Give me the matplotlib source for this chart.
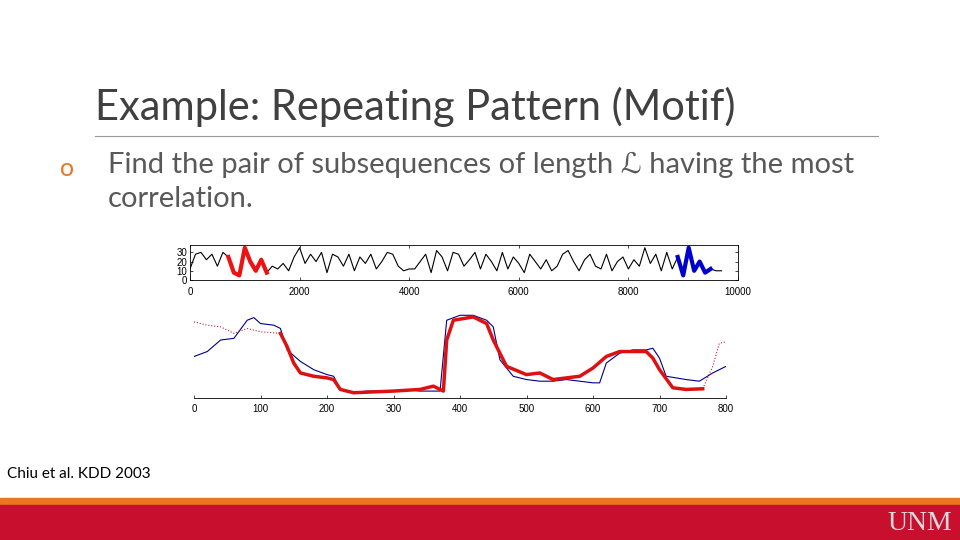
import matplotlib
matplotlib.use("Agg")
import matplotlib.pyplot as plt
import numpy as np

# ---- data ----
top_x = list(range(0, 9800, 100))
top_y = [12,28,30,22,28,15,30,
         25,8,5,35,20,10,22,8,
         15,12,18,10,25,
         35,18,28,20,30,8,28,25,15,28,
         10,25,18,28,12,20,30,28,15,10,
         12,12,20,28,8,32,25,10,30,28,
         15,22,30,12,28,20,10,30,12,25,
         18,8,28,20,12,22,10,15,28,32,
         20,10,22,28,15,12,28,10,20,25,
         12,22,15,35,18,28,10,30,12,25,
         5,35,10,20,8,12,10,10]
red_range = (700, 1400)
blue_range = (8900, 9500)

blue_x = [0,20,40,60,80,90,100,120,130,140,160,180,200,210,220,240,260,280,300,320,340,360,370,
          380,400,420,440,450,460,480,500,520,540,560,580,600,610,620,640,660,680,690,700,710,740,760,780,800]
blue_y = [120,135,170,175,230,238,220,215,205,140,105,80,65,60,20,10,15,15,15,20,15,15,15,
          230,245,245,230,210,110,60,50,45,45,50,45,40,40,100,130,140,140,145,115,60,50,45,70,90]
redpre_x = [0,20,40,60,80,100,130]
redpre_y = [225,215,210,190,205,195,190]
red_x = [130,140,150,160,180,200,210,220,240,300,340,360,375,380,390,420,440,450,460,470,500,520,540,560,580,600,620,640,680,690,700,720,740,765]
red_y = [190,150,100,70,60,55,50,20,10,15,20,30,15,170,230,240,220,170,130,90,65,70,50,55,60,85,120,135,135,115,80,25,20,22]
redpost_x = [765,780,790,800]
redpost_y = [22,90,160,165]

W, H = 960, 540
fig = plt.figure(figsize=(9.6, 5.4), dpi=100)
fig.patch.set_facecolor("white")

def ax_rect(x0, y0, x1, y1):
    return [x0 / W, 1 - y1 / H, (x1 - x0) / W, (y1 - y0) / H]

tf = ["Liberation Sans", "DejaVu Sans"]

# top chart
ax1 = fig.add_axes(ax_rect(190, 245, 738, 280))
ax1.plot(top_x, top_y, color="black", lw=0.8)
tx = np.array(top_x); ty = np.array(top_y)
m = (tx >= red_range[0]) & (tx <= red_range[1])
ax1.plot(tx[m], ty[m], color="#ee1111", lw=3)
m = (tx >= blue_range[0]) & (tx <= blue_range[1])
ax1.plot(tx[m], ty[m], color="#0000cc", lw=3)
ax1.set_xlim(0, 10000); ax1.set_ylim(0, 38)
ax1.set_xticks([0, 2000, 4000, 6000, 8000, 10000])
ax1.set_yticks([0, 10, 20, 30])
ax1.tick_params(labelsize=7, length=2, width=0.5, right=True, top=True, direction="in")
ax1.tick_params(axis="x", pad=5)
ax1.tick_params(axis="y", pad=2)
for lab in ax1.get_xticklabels() + ax1.get_yticklabels():
    lab.set_family(tf)
for s in ax1.spines.values():
    s.set_linewidth(0.6)

# bottom chart
ax2 = fig.add_axes(ax_rect(194, 312, 726, 398))
ax2.plot(blue_x, blue_y, color="#000088", lw=0.8)
ax2.plot(redpre_x, redpre_y, color="#cc2222", lw=0.8, ls=":")
ax2.plot(redpost_x, redpost_y, color="#cc2222", lw=0.8, ls=":")
ax2.plot(red_x, red_y, color="#dd1111", lw=2.5)
ax2.set_xlim(0, 800); ax2.set_ylim(-6, 255)
ax2.set_xticks(range(0, 801, 100))
ax2.set_yticks([])
for s in ["top", "right", "left"]:
    ax2.spines[s].set_visible(False)
ax2.spines["bottom"].set_linewidth(0.6)
ax2.tick_params(labelsize=7, length=2, width=0.5, direction="in", pad=4)
for lab in ax2.get_xticklabels():
    lab.set_family(tf)

# slide decorations
ff = ["Lato", "DejaVu Sans"]
fig.text(95 / W, 1 - 107 / H, "Example: Repeating Pattern (Motif)", fontsize=30, color="#404040",
         va="center", ha="left", family=ff)
fig.add_artist(plt.Line2D([95 / W, 878 / W], [1 - 136 / H] * 2, color="#999999", lw=0.8))
fig.text(60 / W, 1 - 168 / H, "o", fontsize=18, color="#E87722", va="center", family=ff)
fig.text(108 / W, 1 - 165 / H, "Find the pair of subsequences of length ℒ having the most",
         fontsize=21, color="#595959", va="center", family=ff)
fig.text(108 / W, 1 - 199 / H, "correlation.", fontsize=21, color="#595959", va="center", family=ff)
fig.text(7 / W, 1 - 474 / H, "Chiu et al. KDD 2003", fontsize=11, color="black", va="center", family=ff)

fig.add_artist(plt.Rectangle((0, 1 - 505 / H), 1, 7 / H, color="#E87722", transform=fig.transFigure))
fig.add_artist(plt.Rectangle((0, 0), 1, 35 / H, color="#C8102E", transform=fig.transFigure))
fig.text(952 / W, 1 - 523 / H, "UNM", fontsize=20, color="#d9d9d9", ha="right", va="center",
         family=["Liberation Serif", "DejaVu Serif"])

fig.savefig("out.png", dpi=100)
